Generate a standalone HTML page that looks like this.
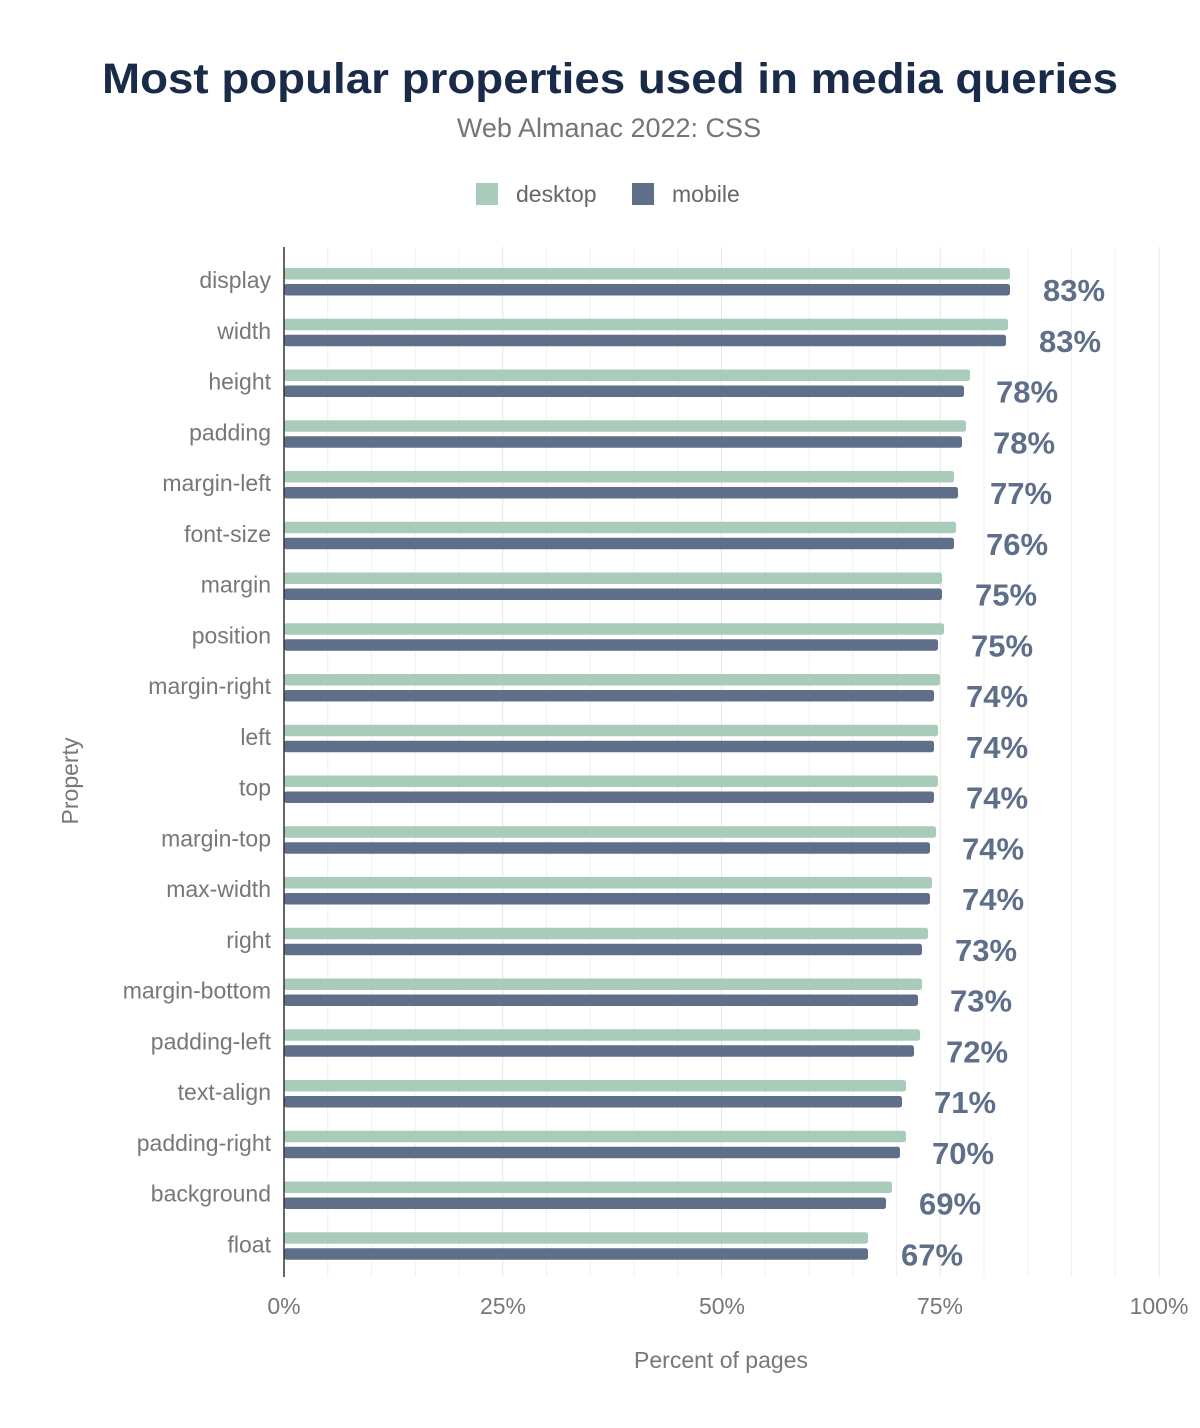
<!DOCTYPE html>
<html><head><meta charset="utf-8"><style>
body{margin:0;background:#fff;}
svg{display:block;font-family:"Liberation Sans",Arial,sans-serif;}
</style></head><body>
<svg width="1200" height="1428" xmlns="http://www.w3.org/2000/svg">
<rect width="1200" height="1428" fill="#fff"/>
<text x="610" y="93" text-anchor="middle" font-size="43" font-weight="bold" fill="#1a2b49" textLength="1016" lengthAdjust="spacingAndGlyphs">Most popular properties used in media queries</text>
<text x="609" y="137" text-anchor="middle" font-size="27" fill="#757575">Web Almanac 2022: CSS</text>
<rect x="476" y="183" width="22" height="22" fill="#a8cbba"/>
<text x="516" y="202" font-size="23" fill="#666">desktop</text>
<rect x="632" y="183" width="22" height="22" fill="#5f6f8a"/>
<text x="672" y="202" font-size="23" fill="#666">mobile</text>
<g id="grid" stroke="#f0f0f0" stroke-width="1"></g>
<g id="bars"></g>
<line x1="284" y1="247" x2="284" y2="1277" stroke="#333" stroke-width="1.5"/>
<g font-size="23" fill="#777" text-anchor="middle">
<text x="284" y="1314">0%</text><text x="503" y="1314">25%</text><text x="722" y="1314">50%</text><text x="940" y="1314">75%</text><text x="1159" y="1314">100%</text>
</g>
<text x="721" y="1368" text-anchor="middle" font-size="23" fill="#777">Percent of pages</text>
<text transform="translate(78,781) rotate(-90)" text-anchor="middle" font-size="23" fill="#777">Property</text>
<script>
var ns="http://www.w3.org/2000/svg";
var g=document.getElementById('grid');
for(var i=1;i<=20;i++){var x=284+43.75*i;var l=document.createElementNS(ns,'line');l.setAttribute('x1',x);l.setAttribute('x2',x);l.setAttribute('y1',247);l.setAttribute('y2',1277);if(i%5==0)l.setAttribute('stroke','#e6e6e6');g.appendChild(l);}
var d=[["display",1010,1010,1043,"83%"],["width",1008,1006,1039,"83%"],["height",970,964,996,"78%"],["padding",966,962,993,"78%"],["margin-left",954,958,990,"77%"],["font-size",956,954,986,"76%"],["margin",942,942,975,"75%"],["position",944,938,971,"75%"],["margin-right",940,934,966,"74%"],["left",938,934,966,"74%"],["top",938,934,966,"74%"],["margin-top",936,930,962,"74%"],["max-width",932,930,962,"74%"],["right",928,922,955,"73%"],["margin-bottom",922,918,950,"73%"],["padding-left",920,914,946,"72%"],["text-align",906,902,934,"71%"],["padding-right",906,900,932,"70%"],["background",892,886,919,"69%"],["float",868,868,901,"67%"]];
var b=document.getElementById('bars');
function mk(t,a,txt){var e=document.createElementNS(ns,t);for(var k in a)e.setAttribute(k,a[k]);if(txt)e.textContent=txt;b.appendChild(e);}
d.forEach(function(r,i){var y=268+50.75*i;
mk('rect',{x:284,y:y,width:r[1]-284,height:11.5,rx:2.5,fill:'#a8cbba'});
mk('rect',{x:284,y:y+16,width:r[2]-284,height:11.5,rx:2.5,fill:'#5f6f8a'});
mk('text',{x:271,y:y+20,'text-anchor':'end','font-size':23,fill:'#777'},r[0]);
mk('text',{x:r[3],y:y+33,'font-size':31,'font-weight':'bold',fill:'#5f6f8a'},r[4]);
});
</script>
</svg>
</body></html>
